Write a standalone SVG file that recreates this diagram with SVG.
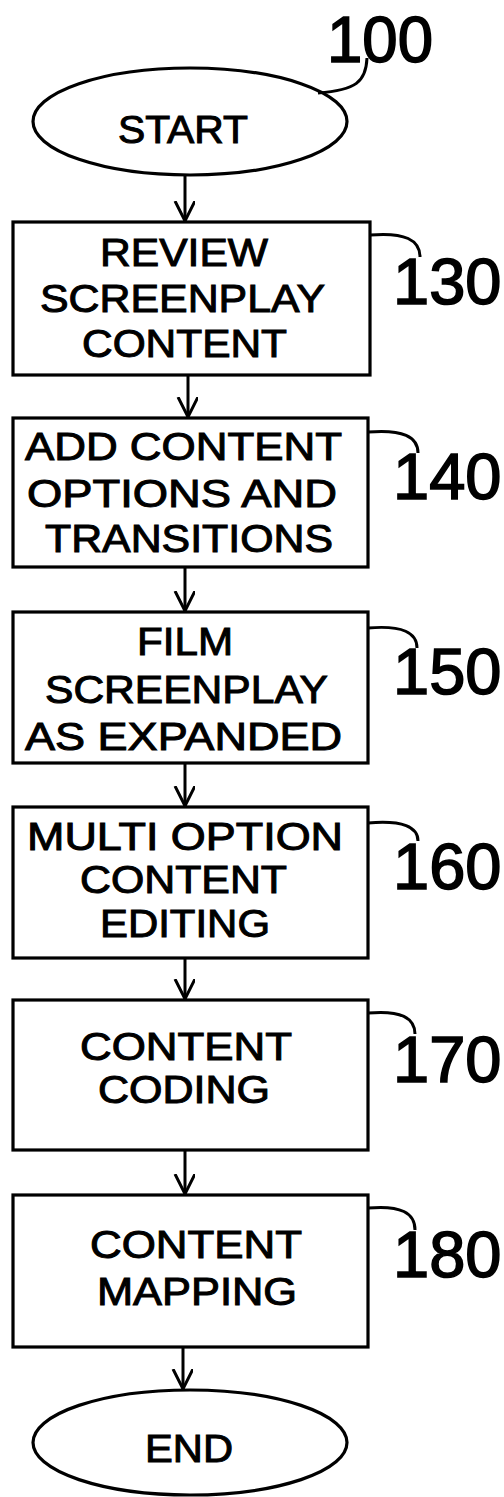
<svg xmlns="http://www.w3.org/2000/svg" width="504" height="1497" viewBox="0 0 504 1497">
<style>
.shape{fill:#fff;stroke:#000;stroke-width:3.2}
.t{font-family:"Liberation Sans",Arial,sans-serif;font-size:38px;fill:#000;stroke:#000;stroke-width:1}
.num{font-family:"Liberation Sans",Arial,sans-serif;font-size:65px;fill:#000;stroke:#000;stroke-width:1.6}
.lead{fill:none;stroke:#000;stroke-width:3}
.conn{fill:none;stroke:#000;stroke-width:3}
</style>
<defs>
<marker id="arr" markerWidth="24" markerHeight="24" refX="20" refY="10" orient="auto" markerUnits="userSpaceOnUse">
<polyline points="0,0 20,10 0,20" fill="none" stroke="#000" stroke-width="3"/>
</marker>
</defs>
<rect width="504" height="1497" fill="#fff"/>
<g id="connectors">
<line class="conn" x1="185" y1="175" x2="185" y2="221" marker-end="url(#arr)"/>
<line class="conn" x1="188" y1="375" x2="188" y2="417" marker-end="url(#arr)"/>
<line class="conn" x1="185" y1="567" x2="185" y2="611" marker-end="url(#arr)"/>
<line class="conn" x1="185" y1="763" x2="185" y2="806" marker-end="url(#arr)"/>
<line class="conn" x1="185" y1="958" x2="185" y2="999" marker-end="url(#arr)"/>
<line class="conn" x1="185" y1="1150" x2="185" y2="1194" marker-end="url(#arr)"/>
<line class="conn" x1="183" y1="1347" x2="183" y2="1389" marker-end="url(#arr)"/>
</g>
<g id="start">
<ellipse class="shape" cx="190" cy="121.5" rx="157" ry="53.5"/>
<text class="t" x="118" y="143" textLength="130" lengthAdjust="spacingAndGlyphs">START</text>
<path class="lead" d="M367,58 C366,82 356,90 318,93"/>
<text class="num" x="327" y="62" font-size="72" textLength="106" lengthAdjust="spacingAndGlyphs">100</text>
</g>
<g id="n130">
<rect class="shape" x="13" y="222" width="357" height="153"/>
<text class="t" x="100" y="266" textLength="168" lengthAdjust="spacingAndGlyphs">REVIEW</text>
<text class="t" x="40" y="312" textLength="285" lengthAdjust="spacingAndGlyphs">SCREENPLAY</text>
<text class="t" x="82" y="357" textLength="205" lengthAdjust="spacingAndGlyphs">CONTENT</text>
<path class="lead" d="M370,235 C405,232 420,240 420,257"/>
<text class="num" x="393" y="304">130</text>
</g>
<g id="n140">
<rect class="shape" x="13" y="418" width="355" height="149"/>
<text class="t" x="25" y="460" textLength="317" lengthAdjust="spacingAndGlyphs">ADD CONTENT</text>
<text class="t" x="27" y="507" textLength="310" lengthAdjust="spacingAndGlyphs">OPTIONS AND</text>
<text class="t" x="45" y="552" textLength="288" lengthAdjust="spacingAndGlyphs">TRANSITIONS</text>
<path class="lead" d="M368,432 C403,429 418,437 418,453"/>
<text class="num" x="393" y="499">140</text>
</g>
<g id="n150">
<rect class="shape" x="13" y="612" width="355" height="151"/>
<text class="t" x="137" y="655" textLength="96" lengthAdjust="spacingAndGlyphs">FILM</text>
<text class="t" x="45" y="703" textLength="283" lengthAdjust="spacingAndGlyphs">SCREENPLAY</text>
<text class="t" x="25" y="750" textLength="317" lengthAdjust="spacingAndGlyphs">AS EXPANDED</text>
<path class="lead" d="M368,628 C403,625 417,633 417,648"/>
<text class="num" x="393" y="694">150</text>
</g>
<g id="n160">
<rect class="shape" x="13" y="807" width="355" height="151"/>
<text class="t" x="27" y="850" textLength="316" lengthAdjust="spacingAndGlyphs">MULTI OPTION</text>
<text class="t" x="80" y="893" textLength="207" lengthAdjust="spacingAndGlyphs">CONTENT</text>
<text class="t" x="100" y="937" textLength="170" lengthAdjust="spacingAndGlyphs">EDITING</text>
<path class="lead" d="M368,823 C403,820 418,827 418,841"/>
<text class="num" x="393" y="889">160</text>
</g>
<g id="n170">
<rect class="shape" x="13" y="1000" width="355" height="150"/>
<text class="t" x="80" y="1060" textLength="212" lengthAdjust="spacingAndGlyphs">CONTENT</text>
<text class="t" x="98" y="1103" textLength="172" lengthAdjust="spacingAndGlyphs">CODING</text>
<path class="lead" d="M368,1013 C401,1010 415,1018 415,1034"/>
<text class="num" x="393" y="1082">170</text>
</g>
<g id="n180">
<rect class="shape" x="13" y="1195" width="355" height="152"/>
<text class="t" x="90" y="1258" textLength="212" lengthAdjust="spacingAndGlyphs">CONTENT</text>
<text class="t" x="97" y="1305" textLength="200" lengthAdjust="spacingAndGlyphs">MAPPING</text>
<path class="lead" d="M368,1208 C401,1205 415,1213 415,1230"/>
<text class="num" x="393" y="1277">180</text>
</g>
<g id="end">
<ellipse class="shape" cx="190" cy="1442.5" rx="157" ry="52.5"/>
<text class="t" x="145" y="1462" textLength="88" lengthAdjust="spacingAndGlyphs">END</text>
</g>
</svg>
